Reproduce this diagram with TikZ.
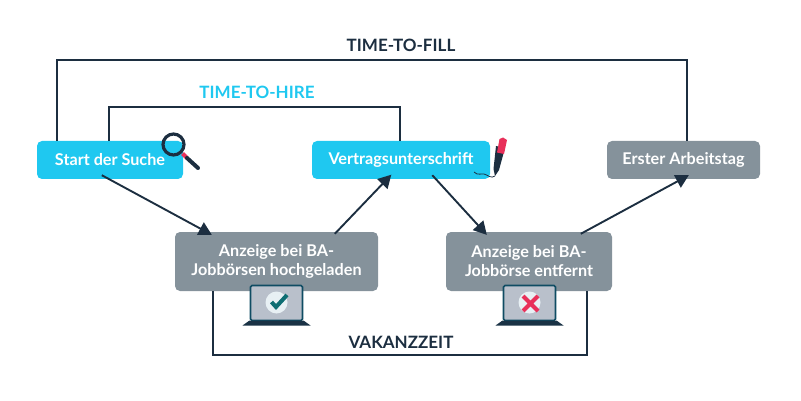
\documentclass[tikz,border=0pt]{standalone}
\usepackage{fontspec}
\setmainfont{Lato}
\usetikzlibrary{arrows.meta,positioning,calc}
\definecolor{cyanbox}{HTML}{1FC8F0}
\definecolor{greybox}{HTML}{85929B}
\definecolor{darkline}{HTML}{1C2E40}
\definecolor{screenfill}{HTML}{B9C0CB}
\definecolor{screenline}{HTML}{0F4C63}
\definecolor{checkteal}{HTML}{0E6E73}
\definecolor{crossred}{HTML}{E8305A}
\definecolor{badge}{HTML}{E8F0F4}
\tikzset{
  cyanstep/.style={fill=cyanbox,rounded corners=5pt,text=white,font=\bfseries\fontsize{16.2}{19}\selectfont,minimum height=38pt,inner sep=0pt,align=center},
  greystep/.style={cyanstep,fill=greybox},
  flow/.style={darkline,line width=1.9pt,-{Triangle[length=13pt,width=14pt]}},
  span/.style={darkline,line width=1.8pt},
  spanlabel/.style={font=\bfseries\fontsize{17}{20}\selectfont,inner sep=0pt},
  laptop/.pic={
    \draw [screenline,fill=screenfill,line width=1.6pt,rounded corners=1.5pt] (-26,18) -- (-26,-17) -- (26,-17) -- (26,18) -- cycle;
    \fill [darkline!85!screenline] (-27,18) -- (27,18) -- (34,23) -- (-34,23) -- cycle;
    \fill [badge] (0,0) circle (11);
  }
}
\begin{document}
\begin{tikzpicture}[x=1pt,y=-1pt]
\useasboundingbox (0,0) rectangle (801,401);
% steps
\node [cyanstep,minimum width=146pt] (start) at (110,160) {\raisebox{-.7pt}{Start der Suche}};
\node [cyanstep,minimum width=178pt] (vertrag) at (401,160) {\raisebox{-.7pt}{Vertragsunterschrift}};
\node [greystep,minimum width=153pt] (arbeit) at (683.5,160) {\raisebox{-.7pt}{Erster Arbeitstag}};
\node [greystep,minimum width=203pt,minimum height=59pt] (upload) at (276.5,261.5) {Anzeige bei BA-\\Jobbörsen hochgeladen};
\node [greystep,minimum width=166pt,minimum height=59pt] (remove) at (529,261.5) {Anzeige bei BA-\\Jobbörse entfernt};
% spans
\coordinate (fillA) at ($(start.north west)+(20,0)$);
\coordinate (fillB) at ($(arbeit.north)+(3.5,0)$);
\coordinate (hireA) at ($(start.north west)+(72,0)$);
\coordinate (hireB) at ($(vertrag.north)+(-1,0)$);
\coordinate (vakA) at ($(upload.south west)+(38,0)$);
\coordinate (vakB) at ($(remove.south east)+(-25,0)$);
\draw [span] (fillA) -- ++(0,-81) -| (fillB);
\draw [span] (hireA) -- ++(0,-34) -| (hireB);
\draw [span] (vakA) -- ++(0,64) -| (vakB);
\node [spanlabel,text=darkline] (fill) at (401,45) {TIME-TO-FILL};
\node [spanlabel,text=cyanbox] (hire) at (257,92) {TIME-TO-HIRE};
\node [spanlabel,text=darkline] (vakanz) at (401,342) {VAKANZZEIT};
% arrows
\draw [flow] ($(start.south west)+(65,-4)$) -- ($(upload.north west)+(37,3)$);
\draw [flow] ($(upload.north west)+(160,2)$) -- ($(vertrag.south west)+(79.5,-4.5)$);
\draw [flow] ($(vertrag.south west)+(120.5,-4)$) -- ($(remove.north west)+(41,3)$);
\draw [flow] ($(remove.north west)+(135,2)$) -- ($(arbeit.south west)+(82,-4)$);
% magnifier
\draw [crossred,line width=4pt] (182.5,153.5) -- (187,158);
\draw [darkline,line width=4pt,line cap=round] (187,158) -- (198,168);
\draw [darkline,line width=3.2pt] (173.5,144.5) circle (10.5);
% pen
\fill [darkline] (496,146) -- (505,148) -- (499,170) -- (495,176) -- (493.5,169) -- cycle;
\fill [crossred] (499.5,139) -- (503,137.5) -- (507,140) -- (504,154) -- (497,152.5) -- cycle;
\draw [darkline,line width=.8pt] (474,172) .. controls (478,176) and (481,173) .. (484,174) .. controls (488,175) and (491,179) .. (495,176);
% laptops
\path (276.5,302.5) pic {laptop};
\draw [checkteal,line width=4pt] (271.5,302) -- (276,307) -- (287,295);
\path (529.5,302.5) pic {laptop};
\draw [crossred,line width=4pt] (523,296) -- (538,311) (538,296) -- (523,311);
\end{tikzpicture}
\end{document}
